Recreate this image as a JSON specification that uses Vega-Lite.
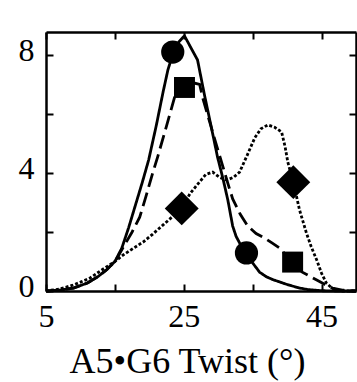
{
  "$schema": "https://vega.github.io/schema/vega-lite/v6.json",
  "width": 310,
  "height": 259,
  "autosize": {"type": "none"},
  "padding": {"left": 46, "top": 32, "right": 1, "bottom": 91},
  "background": "white",
  "config": {
    "view": {"stroke": null},
    "axis": {
      "domainColor": "black",
      "domainWidth": 2.5,
      "tickColor": "black",
      "tickWidth": 2,
      "tickSize": -7,
      "grid": false,
      "labelFont": "Liberation Serif",
      "labelFontSize": 32,
      "labelColor": "black",
      "labelOverlap": false,
      "labelFlush": false,
      "titleFont": "Liberation Serif",
      "titleFontSize": 36,
      "titleFontWeight": "normal",
      "titleColor": "black"
    }
  },
  "datasets": {
    "curves": [
      {"s":"a","x":5,"y":0},{"s":"a","x":7,"y":0.03},{"s":"a","x":9,"y":0.1},{"s":"a","x":11,"y":0.27},{"s":"a","x":12.5,"y":0.48},{"s":"a","x":13.8,"y":0.72},{"s":"a","x":15,"y":1.0},{"s":"a","x":16,"y":1.45},{"s":"a","x":17,"y":2.15},{"s":"a","x":18.2,"y":3.08},{"s":"a","x":19,"y":3.7},{"s":"a","x":19.9,"y":4.44},{"s":"a","x":21,"y":5.6},{"s":"a","x":22,"y":6.75},{"s":"a","x":22.7,"y":7.5},{"s":"a","x":23.5,"y":8.1},{"s":"a","x":24.3,"y":8.45},{"s":"a","x":25.1,"y":8.65},{"s":"a","x":27,"y":7.83},{"s":"a","x":28,"y":6.65},{"s":"a","x":29,"y":5.55},{"s":"a","x":29.9,"y":4.54},{"s":"a","x":30.7,"y":3.8},{"s":"a","x":31.4,"y":3.08},{"s":"a","x":32.1,"y":2.2},{"s":"a","x":32.6,"y":1.85},{"s":"a","x":33.1,"y":1.63},{"s":"a","x":34.1,"y":1.29},{"s":"a","x":35,"y":0.95},{"s":"a","x":36,"y":0.64},{"s":"a","x":37,"y":0.48},{"s":"a","x":38,"y":0.38},{"s":"a","x":39,"y":0.3},{"s":"a","x":40,"y":0.22},{"s":"a","x":41.8,"y":0.1},{"s":"a","x":43,"y":0.05},{"s":"a","x":45,"y":0.01},{"s":"a","x":47,"y":0},{"s":"a","x":50,"y":0},
      {"s":"b","x":5,"y":0},{"s":"b","x":7,"y":0.03},{"s":"b","x":9,"y":0.1},{"s":"b","x":11,"y":0.27},{"s":"b","x":12.5,"y":0.48},{"s":"b","x":13.8,"y":0.72},{"s":"b","x":15,"y":1.0},{"s":"b","x":15.4,"y":1.15},{"s":"b","x":16.5,"y":1.6},{"s":"b","x":17.5,"y":2.0},{"s":"b","x":18.6,"y":2.5},{"s":"b","x":19.5,"y":3.2},{"s":"b","x":20.4,"y":3.93},{"s":"b","x":21.2,"y":4.54},{"s":"b","x":22.5,"y":5.6},{"s":"b","x":23.7,"y":6.6},{"s":"b","x":24.5,"y":6.95},{"s":"b","x":25.5,"y":7.0},{"s":"b","x":26.5,"y":7.05},{"s":"b","x":27.3,"y":7.0},{"s":"b","x":27.8,"y":6.5},{"s":"b","x":28.8,"y":5.7},{"s":"b","x":29.8,"y":4.9},{"s":"b","x":30.7,"y":4.2},{"s":"b","x":31.4,"y":3.65},{"s":"b","x":32.1,"y":3.12},{"s":"b","x":33.2,"y":2.6},{"s":"b","x":34.3,"y":2.2},{"s":"b","x":35.5,"y":1.95},{"s":"b","x":36.7,"y":1.8},{"s":"b","x":37.8,"y":1.63},{"s":"b","x":38.9,"y":1.46},{"s":"b","x":39.9,"y":1.2},{"s":"b","x":40.8,"y":0.98},{"s":"b","x":41.5,"y":0.8},{"s":"b","x":42.2,"y":0.64},{"s":"b","x":43.3,"y":0.5},{"s":"b","x":44.3,"y":0.37},{"s":"b","x":45.5,"y":0.22},{"s":"b","x":46.6,"y":0.1},{"s":"b","x":48,"y":0.03},{"s":"b","x":50,"y":0},
      {"s":"c","x":5,"y":0},{"s":"c","x":7,"y":0.07},{"s":"c","x":8.9,"y":0.2},{"s":"c","x":10,"y":0.3},{"s":"c","x":11.4,"y":0.44},{"s":"c","x":13,"y":0.7},{"s":"c","x":15,"y":1.0},{"s":"c","x":16.2,"y":1.22},{"s":"c","x":17.5,"y":1.42},{"s":"c","x":19.1,"y":1.66},{"s":"c","x":20.5,"y":1.93},{"s":"c","x":22,"y":2.24},{"s":"c","x":23.5,"y":2.55},{"s":"c","x":24.7,"y":2.81},{"s":"c","x":25.9,"y":3.3},{"s":"c","x":27.3,"y":3.7},{"s":"c","x":28.2,"y":3.95},{"s":"c","x":29.2,"y":4.03},{"s":"c","x":30.2,"y":3.85},{"s":"c","x":31.2,"y":3.76},{"s":"c","x":32.2,"y":3.85},{"s":"c","x":33.1,"y":4.03},{"s":"c","x":34.2,"y":4.6},{"s":"c","x":35.3,"y":5.19},{"s":"c","x":36.2,"y":5.5},{"s":"c","x":37.2,"y":5.63},{"s":"c","x":38.2,"y":5.55},{"s":"c","x":39.2,"y":5.39},{"s":"c","x":39.7,"y":4.9},{"s":"c","x":40.1,"y":4.37},{"s":"c","x":40.9,"y":3.69},{"s":"c","x":41.8,"y":2.75},{"s":"c","x":42.8,"y":1.97},{"s":"c","x":43.5,"y":1.5},{"s":"c","x":44.3,"y":1.05},{"s":"c","x":45,"y":0.6},{"s":"c","x":45.7,"y":0.27},{"s":"c","x":46.5,"y":0.1},{"s":"c","x":47.2,"y":0.03},{"s":"c","x":48,"y":0},{"s":"c","x":50,"y":0}
    ],
    "markers": [
      {"m":"circle","x":23.4,"y":8.1},{"m":"circle","x":34.1,"y":1.29},
      {"m":"square","x":25.1,"y":6.9},{"m":"square","x":40.8,"y":0.98},
      {"m":"diamond","x":24.7,"y":2.8},{"m":"diamond","x":40.9,"y":3.69}
    ]
  },
  "layer": [
    {
      "data": {"name": "curves"},
      "mark": {"type": "line", "color": "black", "strokeWidth": 2.8},
      "encoding": {
        "x": {"field": "x", "type": "quantitative",
          "scale": {"domain": [5, 50], "nice": false, "zero": false},
          "axis": {"orient": "bottom", "values": [5, 15, 25, 35, 45],
            "labelExpr": "datum.value == 15 || datum.value == 35 ? '' : datum.label",
            "labelPadding": 17, "title": "A5•G6 Twist (°)",
            "titleX": 141, "titleY": 81, "titleAlign": "center", "titleBaseline": "alphabetic"}},
        "y": {"field": "y", "type": "quantitative",
          "scale": {"domain": [0, 8.78], "nice": false},
          "axis": {"orient": "left", "values": [0, 2, 4, 6, 8],
            "labelExpr": "datum.value == 2 || datum.value == 6 ? '' : datum.label",
            "labelPadding": 19, "labelOffset": -5, "title": null}},
        "strokeDash": {"field": "s", "type": "nominal",
          "scale": {"domain": ["a", "b", "c"], "range": [[1, 0], [14, 6], [3, 2]]},
          "legend": null}
      }
    },
    {
      "data": {"name": "markers"},
      "mark": {"type": "point", "filled": true, "color": "black", "opacity": 1},
      "encoding": {
        "x": {"field": "x", "type": "quantitative",
          "scale": {"domain": [5, 50], "nice": false, "zero": false},
          "axis": {"orient": "top", "values": [5, 15, 25, 35, 45], "labels": false, "title": null}},
        "y": {"field": "y", "type": "quantitative",
          "scale": {"domain": [0, 8.78], "nice": false},
          "axis": {"orient": "right", "values": [0, 2, 4, 6, 8], "labels": false, "title": null}},
        "shape": {"field": "m", "type": "nominal",
          "scale": {"domain": ["circle", "square", "diamond"], "range": ["circle", "square", "diamond"]},
          "legend": null},
        "size": {"field": "m", "type": "nominal",
          "scale": {"type": "ordinal", "domain": ["circle", "square", "diamond"], "range": [540, 440, 1150]},
          "legend": null}
      }
    }
  ],
  "resolve": {"axis": {"x": "independent", "y": "independent"}}
}
